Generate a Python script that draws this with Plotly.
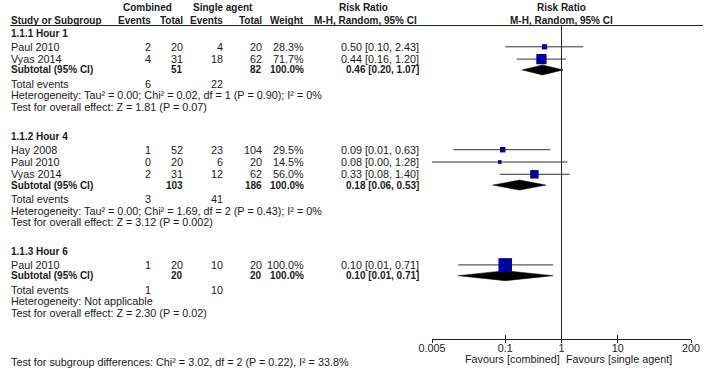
import math
import plotly.graph_objects as go

# ---------------- data ----------------
groups = ["1.1.1 Hour 1", "1.1.2 Hour 4", "1.1.3 Hour 6"]
studies = [["Paul 2010", "Vyas 2014"], ["Hay 2008", "Paul 2010", "Vyas 2014"], ["Paul 2010"]]
comb_events = [[2, 4], [1, 0, 2], [1]]
comb_total = [[20, 31], [52, 20, 31], [20]]
single_events = [[4, 18], [23, 6, 12], [10]]
single_total = [[20, 62], [104, 20, 62], [20]]
weights = [[28.3, 71.7], [29.5, 14.5, 56.0], [100.0]]
rr = [[0.50, 0.44], [0.09, 0.08, 0.33], [0.10]]
ci_low = [[0.10, 0.16], [0.012, 0.004, 0.08], [0.0146]]
ci_high = [[2.43, 1.20], [0.63, 1.28, 1.40], [0.71]]

sub_rr = [0.46, 0.18, 0.10]
sub_low = [0.20, 0.06, 0.0146]
sub_high = [1.07, 0.53, 0.71]

heterogeneity = [
    "Heterogeneity: Tau² = 0.00; Chi² = 0.02, df = 1 (P = 0.90); I² = 0%",
    "Heterogeneity: Tau² = 0.00; Chi² = 1.69, df = 2 (P = 0.43); I² = 0%",
    "Heterogeneity: Not applicable",
]
overall = [
    "Test for overall effect: Z = 1.81 (P = 0.07)",
    "Test for overall effect: Z = 3.12 (P = 0.002)",
    "Test for overall effect: Z = 2.30 (P = 0.02)",
]
subgroup_diff = "Test for subgroup differences: Chi² = 3.02, df = 2 (P = 0.22), I² = 33.8%"

tick_vals = [0.005, 0.1, 1, 10, 200]
tick_text = ["0.005", "0.1", "1", "10", "200"]
x_range = [0.005, 200]

# ---------------- layout constants ----------------
W, H = 708, 375
FONT = "Liberation Sans"
FS = 10.8        # regular text
FSB = 10.0       # bold text
TC = "#1a1a1a"
BLUE = "#0000a0"
AX_L, AX_R = 432, 691
AXIS_Y = 338.5

COL_CE, COL_CT, COL_SE, COL_ST, COL_W, COL_RR = 151, 183, 223, 262, 304, 419


def px(x):
    return x / W


annotations = []


def txt(x, y, s, anchor="left", bold=False):
    annotations.append(dict(
        x=px(x), y=y, xref="paper", yref="y",
        text=f"<b>{s}</b>" if bold else s,
        xanchor=anchor, yanchor="middle", showarrow=False,
        borderpad=0, borderwidth=0,
        font=dict(family=FONT, size=FSB if bold else FS, color=TC)))


def fmt_ci(e, lo, hi):
    return f"{e:.2f} [{lo:.2f}, {hi:.2f}]"


# headers
txt(147, 7.5, "Combined", "center", True)
txt(223, 7.5, "Single agent", "center", True)
txt(363, 7.5, "Risk Ratio", "center", True)
txt(561.5, 7.5, "Risk Ratio", "center", True)
txt(11, 20.7, "Study or Subgroup", "left", True)
txt(COL_CE, 20.7, "Events", "right", True)
txt(COL_CT, 20.7, "Total", "right", True)
txt(COL_SE, 20.7, "Events", "right", True)
txt(COL_ST, 20.7, "Total", "right", True)
txt(COL_W, 20.7, "Weight", "right", True)
txt(365, 20.7, "M-H, Random, 95% CI", "center", True)
txt(561.5, 20.7, "M-H, Random, 95% CI", "center", True)

fig = go.Figure()

ci_x, ci_y = [], []
sq_x, sq_y, sq_s = [], [], []

y = 33.3
for g in range(len(groups)):
    txt(11, y, groups[g], "left", True)
    y += 13.5
    last = y
    for i, name in enumerate(studies[g]):
        txt(11, y, name)
        txt(COL_CE, y, str(comb_events[g][i]), "right")
        txt(COL_CT, y, str(comb_total[g][i]), "right")
        txt(COL_SE, y, str(single_events[g][i]), "right")
        txt(COL_ST, y, str(single_total[g][i]), "right")
        txt(COL_W, y, f"{weights[g][i]:.1f}%", "right")
        txt(COL_RR, y, fmt_ci(rr[g][i], ci_low[g][i], ci_high[g][i]), "right")
        ci_x += [ci_low[g][i], ci_high[g][i], None]
        ci_y += [y, y, None]
        sq_x.append(rr[g][i])
        sq_y.append(y)
        sq_s.append(2 + 11.5 * weights[g][i] / 100)
        last = y
        y += 12.3
    sub_y = last + 10.8
    txt(11, sub_y, "Subtotal (95% CI)", "left", True)
    txt(COL_CT, sub_y, str(sum(comb_total[g])), "right", True)
    txt(COL_ST, sub_y, str(sum(single_total[g])), "right", True)
    txt(COL_W, sub_y, f"{sum(weights[g]):.1f}%", "right", True)
    txt(COL_RR, sub_y, fmt_ci(sub_rr[g], sub_low[g], sub_high[g]), "right", True)
    fig.add_trace(go.Scatter(
        x=[sub_low[g], sub_rr[g], sub_high[g], sub_rr[g], sub_low[g]],
        y=[sub_y, sub_y - 5, sub_y, sub_y + 5, sub_y],
        mode="lines", fill="toself", fillcolor="black",
        line=dict(color="black", width=0.5), hoverinfo="skip", showlegend=False))
    tot_y = sub_y + 14
    txt(11, tot_y, "Total events")
    txt(COL_CE, tot_y, str(sum(comb_events[g])), "right")
    txt(COL_SE, tot_y, str(sum(single_events[g])), "right")
    het_y = tot_y + 11.5
    txt(11, het_y, heterogeneity[g])
    test_y = het_y + 11.3
    txt(11, test_y, overall[g])
    y = test_y + 29.5

txt(11, 362, subgroup_diff)
txt(560, 358.5, "Favours [combined]", "right")
txt(566, 358.5, "Favours [single agent]", "left")

fig.add_trace(go.Scatter(x=ci_x, y=ci_y, mode="lines",
                         line=dict(color="#333333", width=1),
                         hoverinfo="skip", showlegend=False))
fig.add_trace(go.Scatter(x=sq_x, y=sq_y, mode="markers",
                         marker=dict(symbol="square", size=sq_s, color=BLUE,
                                     opacity=1, line=dict(width=0)),
                         hoverinfo="skip", showlegend=False))

shapes = [
    dict(type="line", xref="paper", yref="y", x0=px(10), x1=px(703),
         y0=25.5, y1=25.5, line=dict(color="#222222", width=1)),
    dict(type="line", xref="x", yref="y", x0=1, x1=1,
         y0=25.5, y1=AXIS_Y, line=dict(color="#222222", width=1)),
]

ax_pos = (H - AXIS_Y) / H
log_rng = [math.log10(x_range[0]), math.log10(x_range[1])]
common = dict(type="log", range=log_rng, domain=[px(AX_L), px(AX_R)],
              anchor="free", position=ax_pos, showgrid=False, zeroline=False,
              automargin=False, tickvals=tick_vals)
fig.update_layout(
    width=W, height=H,
    margin=dict(l=0, r=0, t=0, b=0, autoexpand=False),
    paper_bgcolor="white", plot_bgcolor="rgba(0,0,0,0)",
    showlegend=False,
    annotations=annotations,
    shapes=shapes,
    xaxis=dict(**common, showline=True, linecolor="#222222", linewidth=1,
               ticks="", ticktext=tick_text,
               tickfont=dict(family=FONT, size=FS, color=TC)),
    xaxis2=dict(**common, overlaying="x", showline=False,
                ticks="inside", ticklen=4, tickcolor="#222222", tickwidth=1,
                showticklabels=False),
    xaxis3=dict(**common, overlaying="x", showline=False,
                ticks="outside", ticklen=3, tickcolor="#222222", tickwidth=1,
                showticklabels=False),
    yaxis=dict(range=[H, 0], domain=[0, 1], visible=False,
               fixedrange=True, automargin=False),
)
for ax in ["x2", "x3"]:
    fig.add_trace(go.Scatter(x=[1], y=[AXIS_Y], xaxis=ax, mode="markers",
                             marker=dict(opacity=0), hoverinfo="skip",
                             showlegend=False))

# remove the default 8px page margin so the figure sits at the window origin
fig.write_html("out.html",
               config={"displayModeBar": False, "staticPlot": True},
               post_script="document.body.style.margin='0';"
                           "document.body.style.overflow='hidden';")
